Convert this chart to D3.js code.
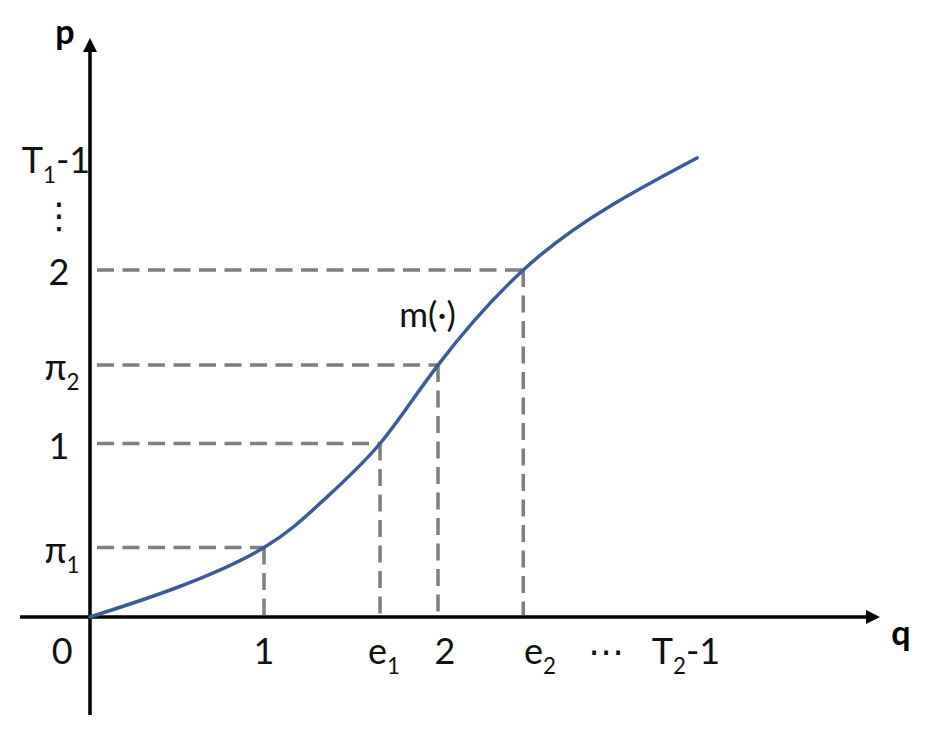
<!DOCTYPE html>
<html><head><meta charset="utf-8">
<script src="https://cdn.jsdelivr.net/npm/d3@7"></script>
<style>body{margin:0;background:#fff} svg{display:block}</style>
</head><body><svg id="c" width="932" height="737"></svg>
<script>
// ---- data ----
const curveQ = [0, 0.5, 1, 1.333, 1.667, 2.0, 2.49, 3.0, 3.489];
const curveP = [0, 0.170, 0.40, 0.665, 1.0, 1.452, 2.0, 2.375, 2.646];
const guideQ = [1, 1.667, 2.0, 2.49];
const guideP = [0.40, 1.0, 1.452, 2.0];
const xLabels = ["0", "1", "e_1", "2", "e_2", "⋯", "T_2-1"];
const xLabelQ = [-0.16, 1, 1.69, 2.04, 2.586, 2.966, 3.425];
const yLabels = ["π_1", "1", "π_2", "2", "⋮", "T_1-1"];
const yLabelP = [0.40, 1, 1.452, 2, 2.33, 2.646];
const curveLabel = "m(·)";
const curveLabelQ = 1.94, curveLabelP = 1.67;

// ---- layout ----
const svg = d3.select("#c");
const x = d3.scaleLinear().domain([0, 2]).range([90, 438]);
const y = d3.scaleLinear().domain([0, 2]).range([617, 270]);
const FONT = "Lato, 'Open Sans', 'DejaVu Sans', sans-serif";
const ink = "#111";
const axisW = 3.5;

// guides (dashed)
const gGuide = svg.append("g").attr("stroke", "#7f7f7f").attr("stroke-width", 3.5)
  .attr("stroke-dasharray", "17 8.5").attr("fill", "none");
guideQ.forEach((q, i) => {
  const p = guideP[i];
  gGuide.append("line").attr("x1", x(0) + 7).attr("x2", x(q)).attr("y1", y(p)).attr("y2", y(p));
  gGuide.append("line").attr("x1", x(q)).attr("x2", x(q)).attr("y1", y(p)).attr("y2", y(0) - 2);
});

// axes
const gAx = svg.append("g");
gAx.append("line").attr("x1", 20).attr("x2", 870).attr("y1", y(0)).attr("y2", y(0))
  .attr("stroke", "#000").attr("stroke-width", axisW);
gAx.append("line").attr("x1", x(0)).attr("x2", x(0)).attr("y1", 715).attr("y2", 50)
  .attr("stroke", "#000").attr("stroke-width", axisW);
gAx.append("path").attr("d", `M${x(0) - 7},${52} L${x(0)},${38} L${x(0) + 7},${52} Z`).attr("fill", "#000");
gAx.append("path").attr("d", `M${866},${y(0) - 7} L${880},${y(0)} L${866},${y(0) + 7} Z`).attr("fill", "#000");

// curve
const pts = curveQ.map((q, i) => [q, curveP[i]]);
svg.append("path").datum(pts)
  .attr("d", d3.line().x(d => x(d[0])).y(d => y(d[1])).curve(d3.curveNatural))
  .attr("fill", "none").attr("stroke", "#3d5a99").attr("stroke-width", 3.5).attr("stroke-linecap", "round");

// labels with subscripts
function label(g, str, px, py, size) {
  const m = str.match(/^([^_]*)(?:_(\d)(.*))?$/);
  const t = g.append("text").attr("x", px).attr("y", py).attr("text-anchor", "middle")
    .attr("font-family", FONT).attr("font-size", size).attr("fill", ink);
  t.append("tspan").text(m[1]);
  if (m[2]) {
    t.append("tspan").attr("dy", 10).attr("font-size", size * 0.62).text(m[2]);
    if (m[3]) t.append("tspan").attr("dy", -10).attr("font-size", size).text(m[3]);
  }
  return t;
}
const gL = svg.append("g");
xLabels.forEach((s, i) => label(gL, s, x(xLabelQ[i]), 664, 36));
yLabels.forEach((s, i) => label(gL, s, s.startsWith("T") ? 56 : (s.startsWith("π") ? 62 : 59), y(yLabelP[i]) + 15, 36));

// axis titles
svg.append("text").attr("x", 65).attr("y", 44).attr("text-anchor", "middle")
  .attr("font-family", FONT).attr("font-weight", "bold").attr("font-size", 34).attr("fill", "#000").text("p");
svg.append("text").attr("x", 901).attr("y", 645).attr("text-anchor", "middle")
  .attr("font-family", FONT).attr("font-weight", "bold").attr("font-size", 34).attr("fill", "#000").text("q");

// curve label
svg.append("text").attr("x", x(curveLabelQ)).attr("y", y(curveLabelP)).attr("text-anchor", "middle")
  .attr("font-family", FONT).attr("font-size", 35).attr("fill", ink).text(curveLabel);
</script></body></html>
